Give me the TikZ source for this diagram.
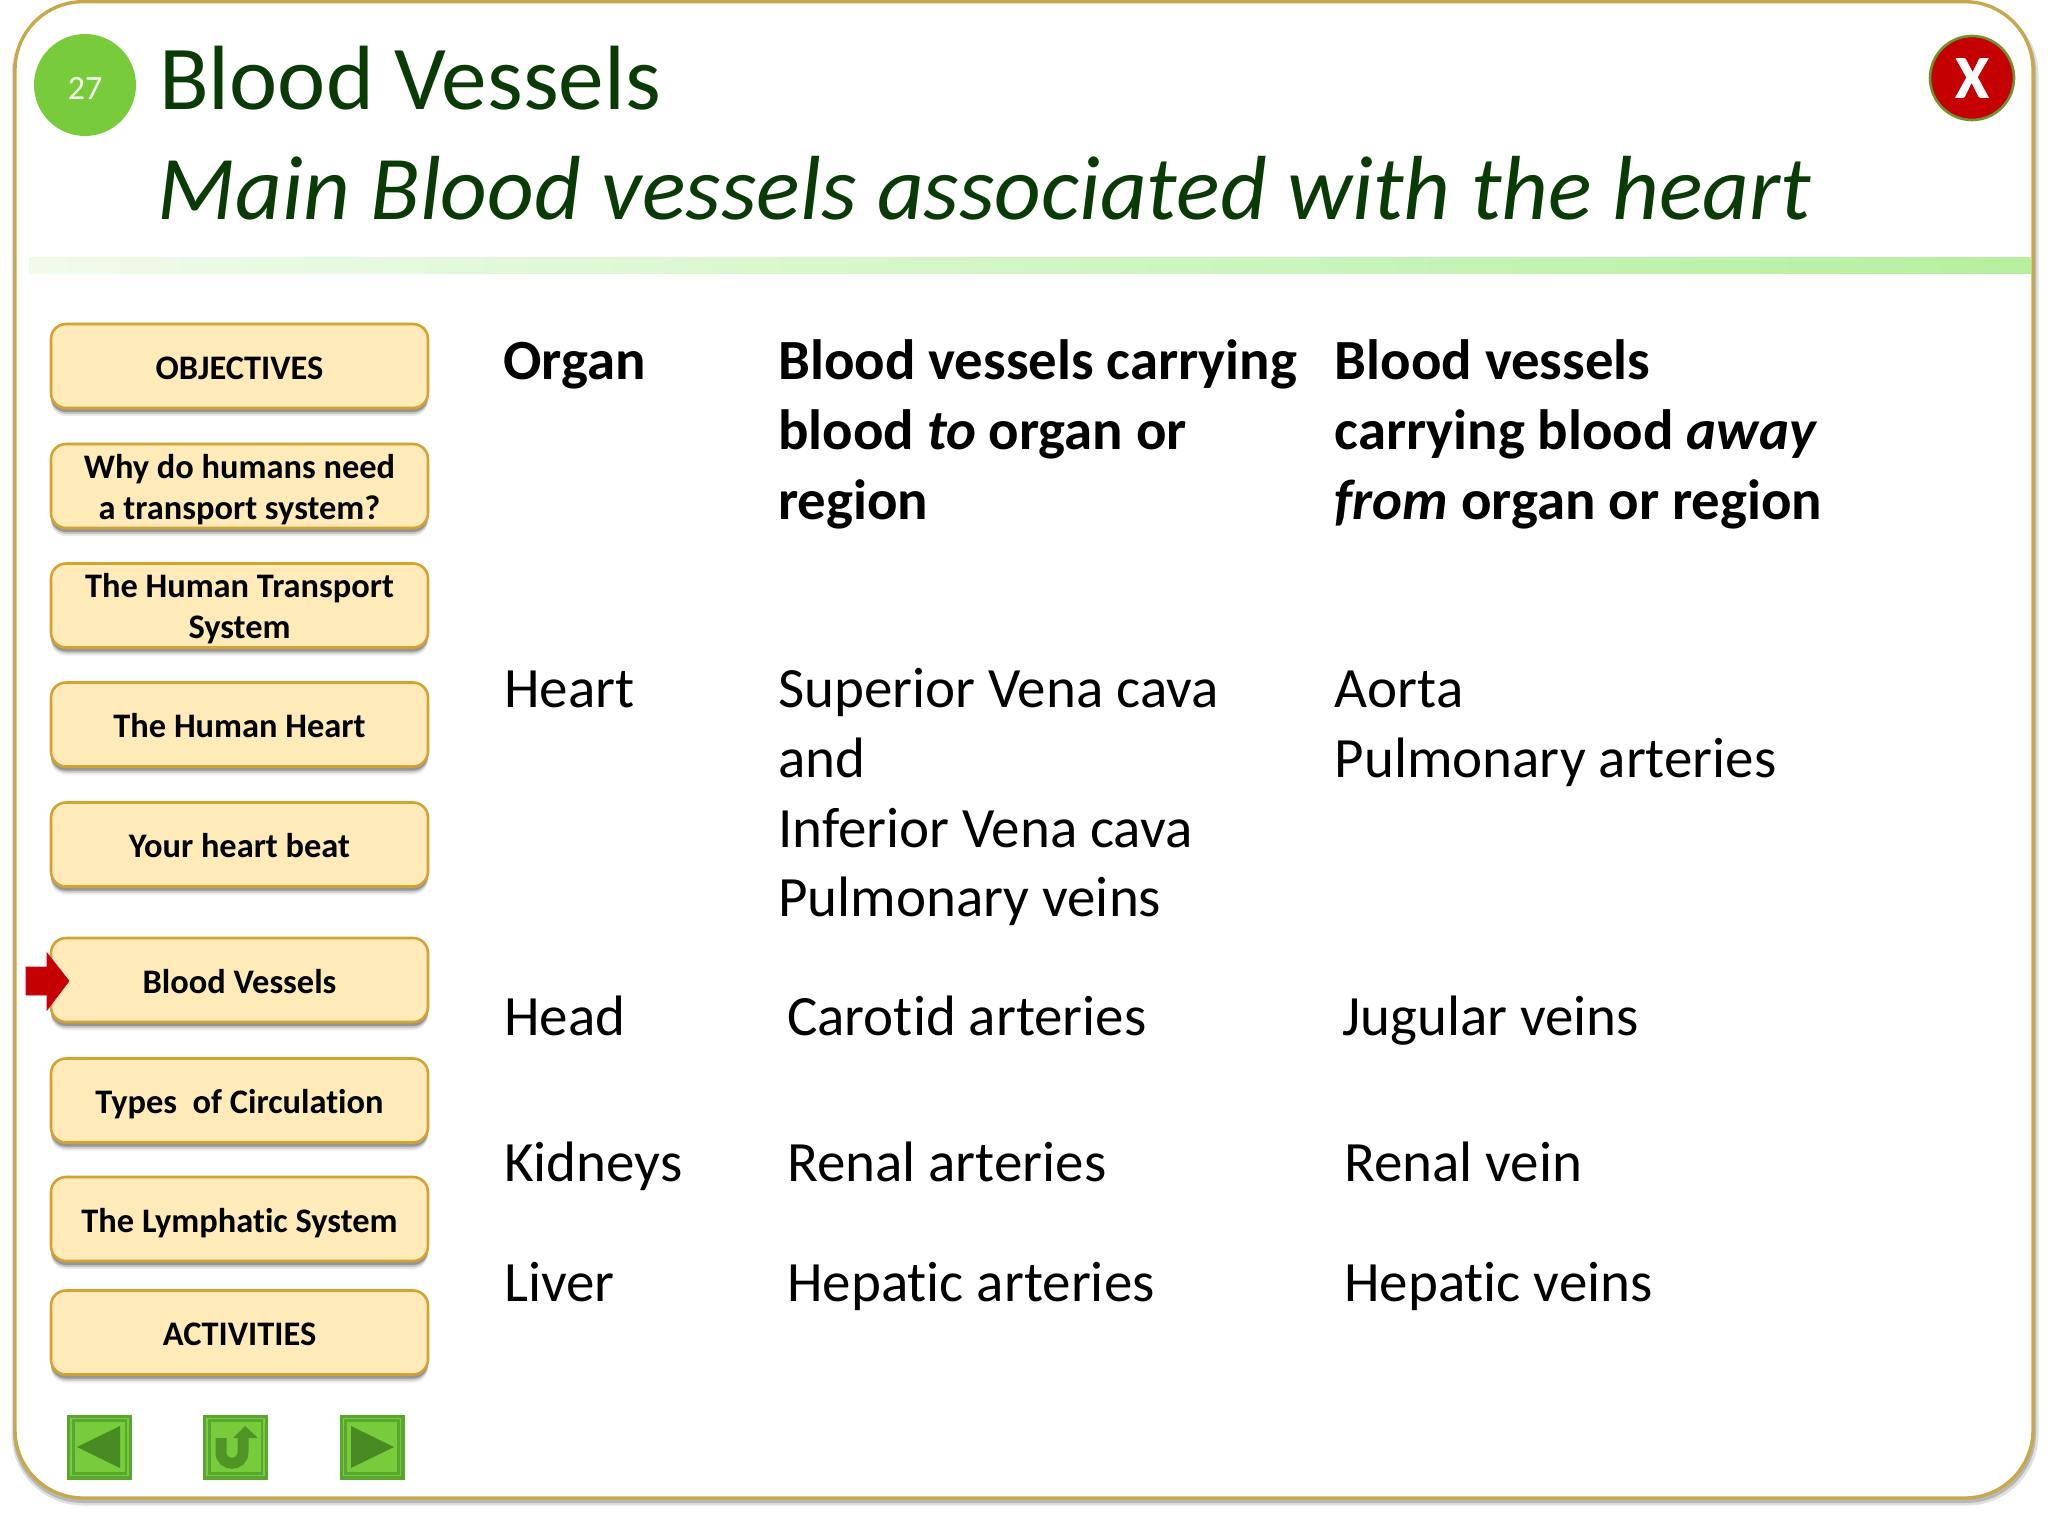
\documentclass[tikz,border=0pt]{standalone}
\usepackage{fontspec}
\setmainfont{Carlito}[Ligatures=NoCommon]
\usetikzlibrary{shadows}
\definecolor{frameC}{HTML}{C8A84A}
\definecolor{titleC}{HTML}{0A3A05}
\definecolor{btnfill}{HTML}{FEEBB9}
\definecolor{btnedge}{HTML}{D3A231}
\definecolor{navdark}{HTML}{5AA72F}
\definecolor{navlight}{HTML}{78CC3B}
\definecolor{navsym}{HTML}{4A8A22}
\definecolor{barL}{HTML}{F0FBEC}
\definecolor{barR}{HTML}{B4F09E}
\tikzset{
  menubtn/.style={draw=btnedge,line width=2.6pt,fill=btnfill,rounded corners=15pt,minimum width=377pt,minimum height=84pt,inner sep=0pt,align=center,
    font=\fontsize{34.4}{40.6}\selectfont\bfseries,
    drop shadow={shadow xshift=0pt,shadow yshift=-8pt,fill=black,opacity=.08},
    drop shadow={shadow xshift=0pt,shadow yshift=-6pt,fill=black,opacity=.15},
    drop shadow={shadow xshift=0pt,shadow yshift=-4pt,fill=black,opacity=.25}},
  oneline/.style={menubtn,execute at begin node={\rule{0pt}{35pt}},execute at end node={\rule[-9pt]{0pt}{9pt}}},
  navbox/.style={fill=navdark,minimum size=65pt,inner sep=0pt},
  navinner/.style={draw=navlight,line width=1.6pt,fill=navdark,minimum size=57pt,inner sep=0pt},
  navcore/.style={fill=navlight,minimum size=50pt,inner sep=0pt},
  headcell/.style={anchor=north west,inner sep=0pt,align=left,font=\fontsize{56.8}{69.7}\selectfont\bfseries},
  bodycell/.style={anchor=north west,inner sep=0pt,align=left,font=\fontsize{57}{69.7}\selectfont},
}
\newcommand{\firstln}{\rule{0pt}{25.4pt}}
\begin{document}
\begin{tikzpicture}[x=1pt,y=-1pt]
\useasboundingbox (0,0) rectangle (2048,1536);
\fill[white] (0,0) rectangle (2048,1536);
% frame
\draw[draw=black!12,line width=7pt,rounded corners=68pt] (15,7) rectangle (2035,1502);
\draw[draw=black!28,line width=4pt,rounded corners=68pt] (15,5) rectangle (2034,1501);
\draw[draw=frameC,fill=white,line width=3.4pt,rounded corners=68pt] (15,1.7) rectangle (2033,1498);
% header bar
\shade[left color=barL,right color=barR] (29,257) rectangle (2031,273);
% title
\node[circle,fill=navlight,minimum size=102pt,inner sep=0pt] (num) at (85,85) {};
\node[text=white!92!navlight,inner sep=0pt,font=\fontsize{34}{40}\selectfont] (numt) at (85,88.5) {27};
\node[anchor=base west,inner sep=0pt,text=titleC,font=\fontsize{91.3}{100}\selectfont] (title) at (159,110) {Blood Vessels};
\node[anchor=base west,inner sep=0pt,text=titleC,font=\fontsize{91.05}{100}\selectfont\itshape] (sub) at (157.5,219.5) {Main Blood vessels associated with the heart};
\node[circle,draw=navsym!70!frameC,fill=red!77!black,line width=2.6pt,minimum size=84pt,inner sep=0pt,text=white,font=\fontsize{60}{60}\selectfont\bfseries\addfontfeature{FakeBold=1.2}] (close) at (1972,78) {X};
% menu
\node[oneline] (b1) at (239.5,366) {OBJECTIVES};
\node[menubtn] (b2) at (239.5,486) {\firstln Why do humans need\\\smash{a transport system?}};
\node[menubtn] (b3) at (239.5,605.5) {\firstln The Human Transport\\\smash{System}};
\node[oneline] (b4) at (239.5,724.5) {The Human Heart};
\node[oneline] (b5) at (239.5,844.5) {Your heart beat};
\node[oneline] (b6) at (239.5,980) {Blood Vessels};
\node[oneline] (b7) at (239.5,1100.5) {Types\ \ of Circulation};
\node[oneline] (b8) at (239.5,1219) {The Lymphatic System};
\node[oneline] (b9) at (239.5,1332.5) {ACTIVITIES};
% marker
\draw[draw=purple!80!red,fill=red!77!black,line width=.8pt] (26,967) -- (47,967) -- (47,953) -- (69,981) -- (47,1010) -- (47,995) -- (26,995) -- cycle;
% nav buttons
\node[navbox] (n1) at (99.5,1447) {};
\node[navinner] at (n1) {};
\node[navcore] at (n1) {};
\fill[navsym] (77,1447) -- (120,1426) -- (120,1468) -- cycle;
\node[navbox] (n2) at (235.5,1447) {};
\node[navinner] at (n2) {};
\node[navcore] at (n2) {};
\draw[navsym!85!navlight,line width=11pt] (221,1438) -- (221,1452) .. controls (221,1467) and (243,1467) .. (243,1452) -- (243,1436);
\fill[navsym!85!navlight] (233,1438) -- (245,1426) -- (258,1438) -- cycle;
\node[navbox] (n3) at (372,1447) {};
\node[navinner] at (n3) {};
\node[navcore] at (n3) {};
\fill[navsym] (394,1447) -- (351,1426) -- (351,1468) -- cycle;
% table
\node[headcell] (h1) at (503,331) {\strut Organ};
\node[headcell] (h2) at (778,331) {\strut Blood vessels carrying\\blood \textit{to} organ or\\region};
\node[headcell] (h3) at (1334.5,331) {\strut Blood vessels\\carrying blood \textit{away}\\\textit{from} organ or region};
\node[bodycell] (r1a) at (504,658.8) {\strut Heart};
\node[bodycell] (r1b) at (778,658.8) {\strut Superior Vena cava\\and\\Inferior Vena cava\\Pulmonary veins};
\node[bodycell] (r1c) at (1334.5,658.8) {\strut Aorta\\Pulmonary arteries};
\node[bodycell] (r2a) at (504,986) {\strut Head};
\node[bodycell] (r2b) at (787,986) {\strut Carotid arteries};
\node[bodycell] (r2c) at (1342,986) {\strut Jugular veins};
\node[bodycell] (r3a) at (504,1132.5) {\strut Kidneys};
\node[bodycell] (r3b) at (787,1132.5) {\strut Renal arteries};
\node[bodycell] (r3c) at (1344,1132.5) {\strut Renal vein};
\node[bodycell] (r4a) at (504,1252.5) {\strut Liver};
\node[bodycell] (r4b) at (787,1252.5) {\strut Hepatic arteries};
\node[bodycell] (r4c) at (1344,1252.5) {\strut Hepatic veins};
\end{tikzpicture}
\end{document}
